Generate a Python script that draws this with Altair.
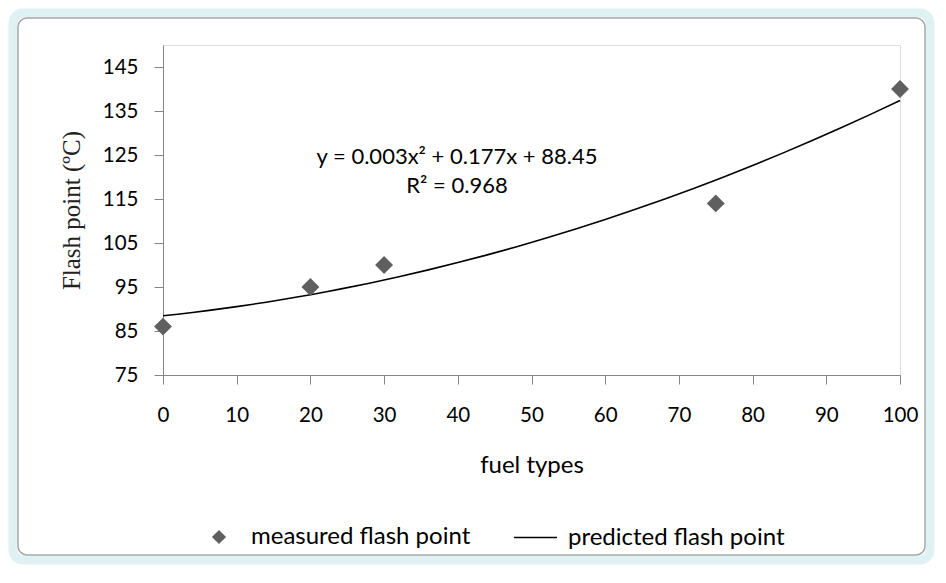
import altair as alt
import pandas as pd

fuel = [0, 20, 30, 75, 100]
flash = [86, 95, 100, 114, 140]
y_ticks = [75, 85, 95, 105, 115, 125, 135, 145]
x_ticks = [0, 10, 20, 30, 40, 50, 60, 70, 80, 90, 100]
equation_lines = ["y = 0.003x² + 0.177x + 88.45", "R² = 0.968"]

FONT = "Lato"

pts = pd.DataFrame({"x": fuel, "y": flash, "series": "measured flash point"})
eq = pd.DataFrame({"text": ["\n".join(equation_lines)]})
frame_df = pd.DataFrame({"k": [0]})

xs = alt.Scale(domain=[0, 100], nice=False, zero=False)
ys = alt.Scale(domain=[75, 150], nice=False, zero=False)

x_axis = alt.Axis(values=x_ticks, grid=False, title="fuel types", tickSize=9,
                  labelPadding=21, titlePadding=28, labelFontSize=20.5,
                  titleFontSize=24, titleFontWeight="normal", labelFont=FONT,
                  titleFont=FONT, domainColor="#868686", tickColor="#868686",
                  labelColor="black", titleColor="black", labelFlush=False)
y_axis = alt.Axis(values=y_ticks, grid=False, title="Flash point (ºC)", tickSize=9,
                  labelPadding=16, titlePadding=18, labelFontSize=20.5,
                  titleFontSize=25, titleFontWeight="normal", labelFont=FONT,
                  titleFont="Liberation Serif", domainColor="#868686",
                  tickColor="#868686", labelColor="black", titleColor="#222222")

base = alt.Chart(pts)

band = alt.Chart(frame_df).mark_rect(filled=False, stroke="#e0f1f3", strokeWidth=9,
                                     cornerRadius=10).encode(
    x=alt.value(-150), x2=alt.value(767), y=alt.value(-32), y2=alt.value(515))
border = alt.Chart(frame_df).mark_rect(filled=False, stroke="#a8a8a8", strokeWidth=1.5,
                                       cornerRadius=9).encode(
    x=alt.value(-145), x2=alt.value(762), y=alt.value(-27), y2=alt.value(510))

points = base.mark_point(filled=True, opacity=1, size=320, color="#5f5f5f").encode(
    x=alt.X("x:Q", scale=xs, axis=x_axis),
    y=alt.Y("y:Q", scale=ys, axis=y_axis),
    shape=alt.Shape("series:N",
                    scale=alt.Scale(domain=["measured flash point"], range=["diamond"]),
                    legend=alt.Legend(orient="none", legendX=44, legendY=480, title=None,
                                      symbolSize=200, symbolFillColor="#5f5f5f",
                                      symbolStrokeColor="#5f5f5f", labelFontSize=24,
                                      labelLimit=0,
                                      labelFont=FONT, labelColor="black", labelOffset=20)),
)

trend = base.transform_regression("x", "y", method="poly", order=2, extent=[0, 100]
).transform_calculate(series="'predicted flash point'").mark_line(strokeWidth=1.6).encode(
    x=alt.X("x:Q", scale=xs),
    y=alt.Y("y:Q", scale=ys),
    color=alt.Color("series:N",
                    scale=alt.Scale(domain=["predicted flash point"], range=["black"]),
                    legend=alt.Legend(orient="none", legendX=350, legendY=470, title=None,
                                      symbolType="stroke", symbolSize=1850,
                                      symbolStrokeWidth=1.5, labelFontSize=24,
                                      labelLimit=0,
                                      labelFont=FONT, labelColor="black", labelOffset=10)),
)

annot = alt.Chart(eq).mark_text(lineBreak="\n", lineHeight=29, fontSize=22, font=FONT,
                                align="center", baseline="middle", color="black").encode(
    text="text:N", x=alt.value(294), y=alt.value(112))

chart = alt.layer(band, border, trend, points, annot).properties(
    width=737, height=330,
    autosize=alt.AutoSizeParams(type="none"),
    padding={"left": 155, "top": 37, "right": 35, "bottom": 190},
).configure_view(stroke=None).configure(background="white")

chart.save("out.html", embed_options={"renderer": "svg", "actions": False})
